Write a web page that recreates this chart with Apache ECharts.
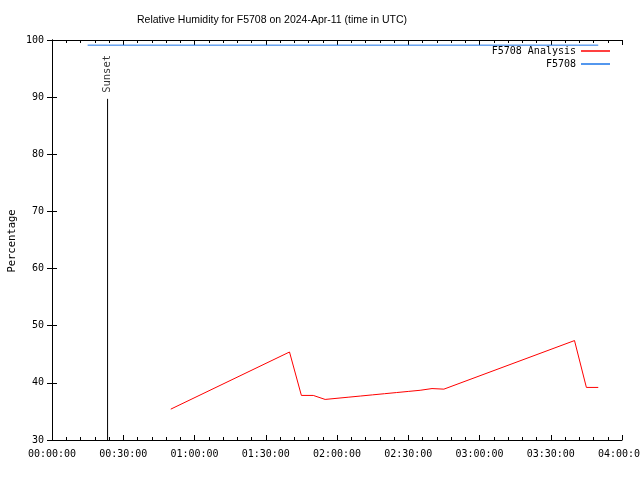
<!DOCTYPE html>
<html><head><meta charset="utf-8">
<script src="https://cdn.jsdelivr.net/npm/echarts@6/dist/echarts.min.js"></script>
<style>html,body{margin:0;padding:0;background:#fff}#c{width:640px;height:480px}</style>
</head><body><div id="c"></div>
<script>
var titleText = 'Relative Humidity for F5708 on 2024-Apr-11 (time in UTC)';
var yAxisName = 'Percentage';
var analysisTimes = ['00:50:00','01:40:00','01:45:00','01:50:00','01:55:00','02:00:00','02:05:00','02:10:00','02:15:00','02:20:00','02:25:00','02:30:00','02:35:00','02:40:00','02:45:00','03:40:00','03:45:00','03:50:00'];
var analysisValues = [35.4,45.4,37.8,37.8,37.1,37.3,37.5,37.7,37.9,38.1,38.3,38.5,38.7,39.0,38.9,47.4,39.2,39.2];
var stationTimes = ['00:15:00','03:50:00'];
var stationValues = [99.1,99.1];
var sunsetTime = '00:23:24';
var sunsetTop = 89.7;
var yMin = 30, yMax = 100;

function toMin(s){var p=s.split(':');return (+p[0])*60+(+p[1])+(+p[2])/60;}
function pad(n){return (n<10?'0':'')+n;}
function fmt(v){var h=Math.floor(v/60),m=Math.round(v%60);return pad(h)+':'+pad(m)+':00';}

var analysisData = analysisTimes.map(function(t,i){return [toMin(t),analysisValues[i]];});
var stationData = stationTimes.map(function(t,i){return [toMin(t),stationValues[i]];});
var sx = toMin(sunsetTime);

var font = 'DejaVu Sans Mono';
var tick = {show:true,inside:true,length:5,lineStyle:{color:'#000'}};
var minor = {show:true,splitNumber:5,length:3,lineStyle:{color:'#000'}};
var axLine = {show:true,lineStyle:{color:'#000',width:1}};

var chart = echarts.init(document.getElementById('c'),null,{renderer:'canvas'});
chart.setOption({
  animation:false,
  backgroundColor:'#fff',
  title:{text:titleText,left:137,top:15,padding:0,textStyle:{fontFamily:'Liberation Sans',fontSize:10.5,fontWeight:'normal',color:'#000'}},
  graphic:[{type:'text',x:12,y:241,rotation:Math.PI/2,
    style:{text:yAxisName,fontFamily:font,fontSize:10.5,fill:'#000',align:'center',verticalAlign:'middle'}}],
  legend:[
    {data:['F5708 Analysis'],right:30,top:46,padding:0,orient:'vertical',align:'right',icon:'rect',itemWidth:29,itemHeight:1.5,itemGap:4,
     textStyle:{fontFamily:font,fontSize:10,color:'#000'}},
    {data:['F5708'],right:30,top:59,padding:0,orient:'vertical',align:'right',icon:'rect',itemWidth:29,itemHeight:1.5,itemGap:4,
     textStyle:{fontFamily:font,fontSize:10,color:'#000'}}
  ],
  grid:{left:52,right:18,top:40,bottom:40,containLabel:false,outerBoundsMode:'none'},
  xAxis:[
    {type:'value',min:0,max:240,interval:30,position:'bottom',axisLine:axLine,axisTick:tick,minorTick:minor,splitLine:{show:false},
     axisLabel:{formatter:fmt,fontFamily:font,fontSize:10,color:'#000',margin:9}},
    {type:'value',min:0,max:240,interval:30,position:'top',axisLine:axLine,axisTick:tick,minorTick:minor,splitLine:{show:false},axisLabel:{show:false}}
  ],
  yAxis:[
    {type:'value',min:yMin,max:yMax,interval:10,position:'left',axisLine:axLine,axisTick:tick,splitLine:{show:false},
     axisLabel:{fontFamily:font,fontSize:10,color:'#000',margin:8}},
    {type:'value',min:yMin,max:yMax,interval:10,position:'right',axisLine:axLine,axisTick:tick,splitLine:{show:false},axisLabel:{show:false}}
  ],
  series:[
    {name:'F5708 Analysis',type:'line',data:analysisData,showSymbol:false,symbol:'none',color:'#ff0000',lineStyle:{color:'#ff0000',width:1}},
    {name:'F5708',type:'line',data:stationData,showSymbol:false,symbol:'none',color:'#1a74e8',lineStyle:{color:'#1a74e8',width:1}},
    {name:'sunset',type:'line',data:[[sx,yMin],[sx,sunsetTop]],showSymbol:false,symbol:'none',color:'#000',lineStyle:{color:'#000',width:1}},
    {name:'sunsetLabel',type:'scatter',data:[[sx,sunsetTop]],symbolSize:0.01,
     label:{show:true,formatter:'Sunset',position:'top',distance:6,rotate:90,align:'left',verticalAlign:'middle',fontFamily:font,fontSize:10.5,color:'#000'}}
  ]
});
</script></body></html>
